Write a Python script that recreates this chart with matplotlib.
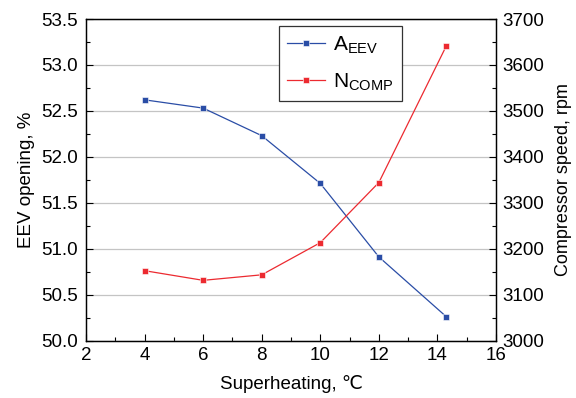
import matplotlib
matplotlib.use("Agg")
import matplotlib.pyplot as plt
from matplotlib.ticker import MultipleLocator

plt.rcParams['font.family'] = ['Liberation Sans', 'DejaVu Sans']
plt.rcParams['mathtext.fontset'] = 'custom'
plt.rcParams['mathtext.rm'] = 'Liberation Sans'

superheat = [4, 6, 8, 10, 12, 14.3]
eev_opening = [52.62, 52.53, 52.23, 51.71, 50.91, 50.26]
comp_speed = [3152, 3131, 3143, 3213, 3344, 3641]

blue = '#2a4da6'
red = '#ec2a30'

fig = plt.figure(figsize=(5.76, 3.98), dpi=100)
ax = fig.add_axes([86 / 576, 1 - 340.5 / 398, 410 / 576, 321.5 / 398])
ax2 = ax.twinx()

l1, = ax.plot(superheat, eev_opening, color=blue, lw=0.9, marker='s', ms=5,
              mec='white', mew=0.4, label=r'A$_\mathregular{EEV}$')
l2, = ax2.plot(superheat, comp_speed, color=red, lw=0.9, marker='s', ms=5,
               mec='white', mew=0.4, label=r'N$_\mathregular{COMP}$')

ax.set_xlim(2, 16)
ax.set_ylim(50.0, 53.5)
ax2.set_ylim(3000, 3700)

ax.xaxis.set_major_locator(MultipleLocator(2))
ax.xaxis.set_minor_locator(MultipleLocator(1))
ax.yaxis.set_major_locator(MultipleLocator(0.5))
ax.yaxis.set_minor_locator(MultipleLocator(0.25))
ax2.yaxis.set_major_locator(MultipleLocator(100))
ax2.yaxis.set_minor_locator(MultipleLocator(50))
ax.yaxis.set_major_formatter(plt.FormatStrFormatter('%.1f'))

ax.grid(axis='y', color='#c4c4c4', lw=0.9)
ax.set_axisbelow(True)

for a in (ax, ax2):
    a.tick_params(which='both', direction='in', labelsize=13.5, width=0.8)
    a.tick_params(which='major', length=5)
    a.tick_params(which='minor', length=3)
    for s in a.spines.values():
        s.set_linewidth(0.9)
ax.tick_params(axis='y', pad=6)
ax2.tick_params(axis='y', pad=4.5)
ax.tick_params(axis='x', which='both', top=False, pad=4.5)

ax.set_xlabel('Superheating, \u2103', fontsize=13.5, labelpad=8)
ax.set_ylabel('EEV opening, %', fontsize=13.5, labelpad=4.5)
ax2.set_ylabel('Compressor speed, rpm', fontsize=13, labelpad=8)

leg = ax.legend(handles=[l1, l2], loc='upper left',
                bbox_to_anchor=((279 - 86) / 410, (340.5 - 26) / 321.5),
                borderaxespad=0, fontsize=15, fancybox=False, edgecolor='#333333',
                framealpha=1, handlelength=1.8, borderpad=0.4, labelspacing=0.75,
                handletextpad=0.4)
leg.get_frame().set_linewidth(0.9)

fig.savefig('out.png', dpi=100)
